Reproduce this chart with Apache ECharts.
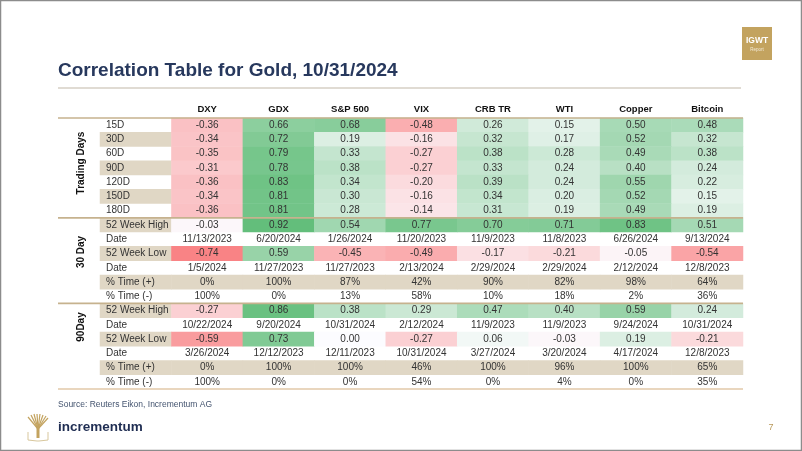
<!DOCTYPE html>
<html>
<head>
<meta charset="utf-8">
<script src="https://cdn.jsdelivr.net/npm/echarts@6/dist/echarts.min.js"></script>
<style>
html,body{margin:0;padding:0;background:#fff;}
#c{width:802px;height:451px;}
</style>
</head>
<body>
<div id="c"></div>
<script>
// ---------- data ----------
const columns = ['DXY', 'GDX', 'S&P 500', 'VIX', 'CRB TR', 'WTI', 'Copper', 'Bitcoin'];
const tradingRows = ['15D', '30D', '60D', '90D', '120D', '150D', '180D'];
const tradingValues = [
  [-0.36, 0.66, 0.68, -0.48, 0.26, 0.15, 0.50, 0.48],
  [-0.34, 0.72, 0.19, -0.16, 0.32, 0.17, 0.52, 0.32],
  [-0.35, 0.79, 0.33, -0.27, 0.38, 0.28, 0.49, 0.38],
  [-0.31, 0.78, 0.38, -0.27, 0.33, 0.24, 0.40, 0.24],
  [-0.36, 0.83, 0.34, -0.20, 0.39, 0.24, 0.55, 0.22],
  [-0.34, 0.81, 0.30, -0.16, 0.34, 0.20, 0.52, 0.15],
  [-0.36, 0.81, 0.28, -0.14, 0.31, 0.19, 0.49, 0.19]
];
const statRows = ['52 Week High', 'Date', '52 Week Low', 'Date', '% Time (+)', '% Time (-)'];

const d30High = [-0.03, 0.92, 0.54, 0.77, 0.70, 0.71, 0.83, 0.51];
const d30HighDate = ['11/13/2023', '6/20/2024', '1/26/2024', '11/20/2023', '11/9/2023', '11/8/2023', '6/26/2024', '9/13/2024'];
const d30Low = [-0.74, 0.59, -0.45, -0.49, -0.17, -0.21, -0.05, -0.54];
const d30LowDate = ['1/5/2024', '11/27/2023', '11/27/2023', '2/13/2024', '2/29/2024', '2/29/2024', '2/12/2024', '12/8/2023'];
const d30Pos = [0, 100, 87, 42, 90, 82, 98, 64];
const d30Neg = [100, 0, 13, 58, 10, 18, 2, 36];

const d90High = [-0.27, 0.86, 0.38, 0.29, 0.47, 0.40, 0.59, 0.24];
const d90HighDate = ['10/22/2024', '9/20/2024', '10/31/2024', '2/12/2024', '11/9/2023', '11/9/2023', '9/24/2024', '10/31/2024'];
const d90Low = [-0.59, 0.73, 0.00, -0.27, 0.06, -0.03, 0.19, -0.21];
const d90LowDate = ['3/26/2024', '12/12/2023', '12/11/2023', '10/31/2024', '3/27/2024', '3/20/2024', '4/17/2024', '12/8/2023'];
const d90Pos = [0, 100, 100, 46, 100, 96, 100, 65];
const d90Neg = [100, 0, 0, 54, 0, 4, 0, 35];

const groupLabels = ['Trading Days', '30 Day', '90Day'];

// ---------- build table rows ----------
const rows = [];
tradingRows.forEach((r, i) => rows.push({label: r, type: 'corr', values: tradingValues[i], tan: i % 2 === 1}));
function addStats(high, highDate, low, lowDate, pos, neg) {
  rows.push({label: statRows[0], type: 'corr', values: high, tan: true});
  rows.push({label: statRows[1], type: 'text', values: highDate, tan: false});
  rows.push({label: statRows[2], type: 'corr', values: low, tan: true});
  rows.push({label: statRows[3], type: 'text', values: lowDate, tan: false});
  rows.push({label: statRows[4], type: 'pct', values: pos, tan: true, full: true});
  rows.push({label: statRows[5], type: 'pct', values: neg, tan: false});
}
addStats(d30High, d30HighDate, d30Low, d30LowDate, d30Pos, d30Neg);
addStats(d90High, d90HighDate, d90Low, d90LowDate, d90Pos, d90Neg);

const TAN = '#e0d7c5';
const corrData = [], textData = [], bandData = [];
rows.forEach((r, ri) => {
  bandData.push({value: [0, ri, 1], itemStyle: {color: r.tan ? TAN : 'rgba(0,0,0,0)'}});
  r.values.forEach((v, ci) => {
    if (r.type === 'corr') {
      corrData.push([ci + 1, ri, v]);
    } else if (r.type === 'text') {
      textData.push({value: [ci + 1, ri, 0], name: v, itemStyle: {color: 'rgba(0,0,0,0)'}});
    } else {
      textData.push({value: [ci + 1, ri, v], name: v + '%', itemStyle: {color: r.full ? TAN : 'rgba(0,0,0,0)'}});
    }
  });
});

// ---------- layout ----------
const W = 802, H = 451;
const G = {left: 100, right: 59, top: 118, bottom: 62};
const rowH = (H - G.top - G.bottom) / rows.length;
const lineYs = [G.top, G.top + 7 * rowH, G.top + 13 * rowH, H - G.bottom];
const FONT = "'Liberation Sans', Arial, sans-serif";
const CELL_FS = 10;

const graphic = [
  {type: 'rect', shape: {x: 0.5, y: 0.5, width: W - 1, height: H - 1}, style: {fill: 'none', stroke: '#8c8c8c', lineWidth: 1.5}, z: 100},
  {type: 'line', shape: {x1: 58, y1: 88, x2: 741, y2: 88}, style: {stroke: '#d6cfc4', lineWidth: 1.5}},
  {type: 'rect', shape: {x: 742, y: 27, width: 30, height: 33}, style: {fill: '#c3a35f'}},
  {type: 'text', x: 757, y: 41, style: {text: 'IGWT', fill: '#fff', font: "bold 8.5px " + FONT, align: 'center', verticalAlign: 'middle'}},
  {type: 'text', x: 757, y: 50, style: {text: 'Report', fill: '#f3ead6', font: "4.5px " + FONT, align: 'center', verticalAlign: 'middle'}},
  {type: 'text', x: 58, y: 405, style: {text: 'Source: Reuters Eikon, Incrementum AG', fill: '#44546f', font: "8.5px " + FONT, verticalAlign: 'middle'}},
  {type: 'text', x: 58, y: 427, style: {text: 'incrementum', fill: '#1f2d52', font: "bold 13.5px " + FONT, verticalAlign: 'middle'}},
  {type: 'text', x: 771, y: 428, style: {text: '7', fill: '#b8985a', font: "9px " + FONT, align: 'center', verticalAlign: 'middle'}}
];
// simple tree logo
const treeC = '#c3a35f';
[[-10, -12], [-7, -14], [-4, -15], [-1, -15], [2, -15], [5, -14], [8, -13], [10, -11]].forEach(d => {
  graphic.push({type: 'line', shape: {x1: 38, y1: 429, x2: 38 + d[0], y2: 429 + d[1]}, style: {stroke: treeC, lineWidth: 1.2}});
});
graphic.push({type: 'rect', shape: {x: 36.5, y: 427, width: 3, height: 11}, style: {fill: treeC}});
graphic.push({type: 'polyline', shape: {points: [[28, 432], [28, 440], [37, 441], [39, 441], [48, 440], [48, 432]]}, style: {stroke: '#d8c79d', fill: 'none', lineWidth: 1}});
// section lines
lineYs.forEach((y, i) => {
  graphic.push({type: 'line', shape: {x1: 58, y1: y, x2: W - G.right, y2: y}, style: {stroke: i === 3 ? '#e2c9a8' : '#c6b28e', lineWidth: 1.6}, z: 50});
});
// group labels (rotated)
[[groupLabels[0], 163], [groupLabels[1], 252], [groupLabels[2], 327]].forEach(g => {
  graphic.push({type: 'text', x: 81, y: g[1], rotation: Math.PI / 2,
    style: {text: g[0], fill: '#111', font: "bold 10px " + FONT, align: 'center', verticalAlign: 'middle'}});
});

const chart = echarts.init(document.getElementById('c'), null, {renderer: 'canvas'});
chart.setOption({
  animation: false,
  backgroundColor: '#fff',
  textStyle: {fontFamily: FONT},
  title: {
    text: 'Correlation Table for Gold, 10/31/2024',
    left: 53, top: 56,
    textStyle: {fontSize: 19, fontWeight: 'bold', color: '#27385d', fontFamily: FONT}
  },
  grid: G,
  xAxis: {
    type: 'category', position: 'top',
    data: [''].concat(columns),
    axisLine: {show: false}, axisTick: {show: false}, splitLine: {show: false},
    axisLabel: {interval: 0, margin: 4, color: '#111', fontWeight: 'bold', fontSize: 9.5, fontFamily: FONT}
  },
  yAxis: {
    type: 'category', inverse: true, z: 10,
    data: rows.map((r, i) => String(i)),
    axisLine: {show: false}, axisTick: {show: false}, splitLine: {show: false},
    axisLabel: {inside: true, margin: 6, color: '#333', fontSize: CELL_FS, fontFamily: FONT, interval: 0,
      formatter: v => rows[+v].label}
  },
  visualMap: {
    show: false, type: 'continuous', seriesIndex: 1, dimension: 2,
    min: -0.9, max: 0.9,
    inRange: {color: ['#F8696B', '#FCFCFF', '#63BE7B']}
  },
  graphic: graphic,
  series: [
    {type: 'heatmap', name: 'band', data: bandData, label: {show: false}, emphasis: {disabled: true}},
    {type: 'heatmap', name: 'corr', data: corrData, emphasis: {disabled: true},
      label: {show: true, color: '#333', fontSize: CELL_FS, fontFamily: FONT, formatter: p => p.value[2].toFixed(2)}},
    {type: 'heatmap', name: 'text', data: textData, emphasis: {disabled: true},
      label: {show: true, color: '#333', fontSize: CELL_FS, fontFamily: FONT, formatter: p => p.name}}
  ]
});
</script>
</body>
</html>
